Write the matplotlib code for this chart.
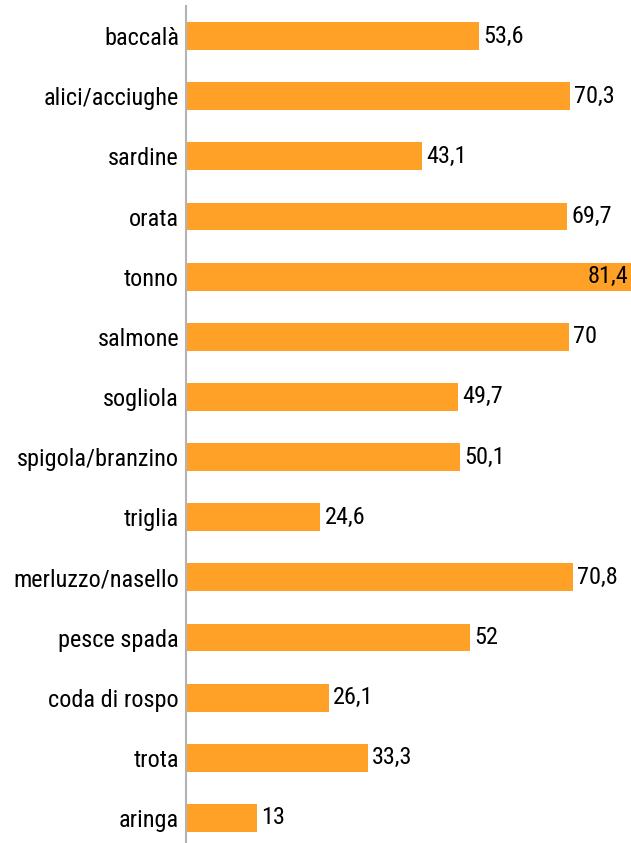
import matplotlib.pyplot as plt

# categorie e valori (percentuali)
categories = ["baccalà", "alici/acciughe", "sardine", "orata", "tonno", "salmone",
              "sogliola", "spigola/branzino", "triglia", "merluzzo/nasello",
              "pesce spada", "coda di rospo", "trota", "aringa"]
values = [53.6, 70.3, 43.1, 69.7, 81.4, 70, 49.7, 50.1, 24.6, 70.8, 52, 26.1, 33.3, 13]

plt.rcParams['font.family'] = ['Liberation Sans Narrow', 'Arial Narrow', 'Roboto Condensed',
                               'Archivo Narrow', 'DejaVu Sans']

W, H = 631, 843
fig = plt.figure(figsize=(W / 100, H / 100), dpi=100)
ax = fig.add_axes([186 / W, -5 / H, 445 / W, 842 / H])

n = len(categories)
ypos = list(range(n))
ax.barh(ypos, values, height=0.465, color='#FFA126', zorder=2)

ax.set_xlim(0, max(values))
ax.set_ylim(n - 0.5, -0.5)

ax.set_yticks(ypos)
ax.set_yticklabels(categories, fontsize=17.5)
ax.tick_params(axis='y', length=0, pad=5)
ax.set_xticks([])

for s in ['top', 'right', 'bottom']:
    ax.spines[s].set_visible(False)
ax.spines['left'].set_color('#b3b3b3')
ax.spines['left'].set_linewidth(1.5)

for y, v in zip(ypos, values):
    txt = f"{v:g}".replace('.', ',')
    if v >= max(values):
        ax.annotate(txt, (v, y), xytext=(-2, 0), textcoords='offset points',
                    ha='right', va='center', fontsize=17.5)
    else:
        ax.annotate(txt, (v, y), xytext=(3, 0), textcoords='offset points',
                    ha='left', va='center', fontsize=17.5)

fig.savefig('out.png', dpi=100)
